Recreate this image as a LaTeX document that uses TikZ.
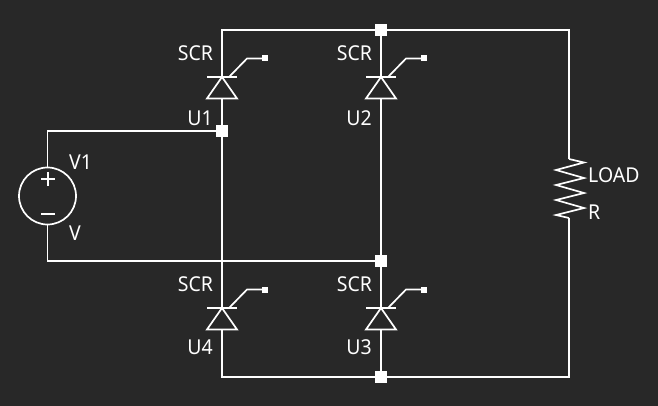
\documentclass[tikz,border=0pt]{standalone}
\usepackage{fontspec}
\setmainfont[FakeStretch=0.95]{Noto Sans}
\definecolor{bgc}{HTML}{282828}
\tikzset{
  wire/.style={draw=white,line width=1.7pt,line join=miter},
  junction/.style={draw=none,fill=white,minimum size=11.5pt,inner sep=0pt,rectangle},
  gatepad/.style={draw=none,fill=white,minimum size=6pt,inner sep=0pt,rectangle},
  lbl/.style={text=white,font=\fontsize{20.5pt}{21pt}\selectfont,inner sep=0pt},
  corner/.style={inner sep=0pt,minimum size=0pt}
}
\newcommand{\scrdev}[6]{% x, bar y, names prefix, SCR label y, U label, U label y
  \coordinate (#3a) at (#1,#2);
  \coordinate (#3b) at (#1,#2+21.5);
  \draw[wire] (#1-15,#2) -- (#1+15,#2);
  \draw[wire] (#3a) -- (#1-15,#2+21.5) -- (#1+15,#2+21.5) -- cycle;
  \node[gatepad] (#3p) at (#1+43,#2-18.5) {};
  \coordinate (#3k) at (#1+25,#2-18.5);
  \draw[wire] (#1+7,#2) -- (#3k) -- (#3p);
  \node[lbl] (#3s) at (#1-26.5,#4) {SCR};
  \node[lbl] (#3u) at (#1-22,#6) {#5};
}
\begin{document}
\begin{tikzpicture}[x=1pt,y=-1pt]
\useasboundingbox[fill=bgc] (0,0) rectangle (658,406);
% junctions
\node[junction] (jt) at (381,30) {};
\node[junction] (jl) at (222,131) {};
\node[junction] (jm) at (381,261) {};
\node[junction] (jb) at (381,377) {};
% corners
\coordinate (ctl) at (222,30);
\coordinate (ctr) at (569,30);
\coordinate (cbl) at (222,377);
\coordinate (cbr) at (569,377);
\coordinate (csa) at (47.5,131);
\coordinate (csb) at (47.5,261);
% devices
\scrdev{222}{77}{ua}{53}{U1}{118}
\scrdev{381}{77}{ub}{53}{U2}{118}
\scrdev{222}{308}{ud}{284}{U4}{347}
\scrdev{381}{308}{uc}{284}{U3}{347}
% source
\node[draw=white,line width=1.7pt,circle,minimum size=57pt,inner sep=0pt] (src) at (47.5,196) {};
\draw[wire] (41,179) -- (55,179) (48,172) -- (48,186);
\draw[wire] (41,214) -- (55,214);
\node[lbl,anchor=west] (lv1) at (69,162) {V1};
\node[lbl,anchor=west] (lv) at (69,233) {V};
% resistor
\coordinate (ra) at (569,159);
\coordinate (rb) at (569,218);
\draw[wire] (ra) -- (584,162.5) -- (556,170) -- (584,178) -- (556,185) -- (584,193) -- (556,200) -- (584,208) -- (556,215) -- (rb);
\node[lbl,anchor=west] (lload) at (588,175) {LOAD};
\node[lbl,anchor=west] (lr) at (588,212) {R};
% wires
\draw[wire] (uaa) -- (ctl) -- (jt) -- (ctr) -- (ra);
\draw[wire] (rb) -- (cbr) -- (jb) -- (cbl) -- (udb);
\draw[wire] (uab) -- (jl) -- (uda);
\draw[wire] (uba) -- (jt);
\draw[wire] (ubb) -- (jm) -- (uca);
\draw[wire] (ucb) -- (jb);
\draw[wire] (src.north) -- (csa) -- (jl);
\draw[wire] (src.south) -- (csb) -- (jm);
\end{tikzpicture}
\end{document}
